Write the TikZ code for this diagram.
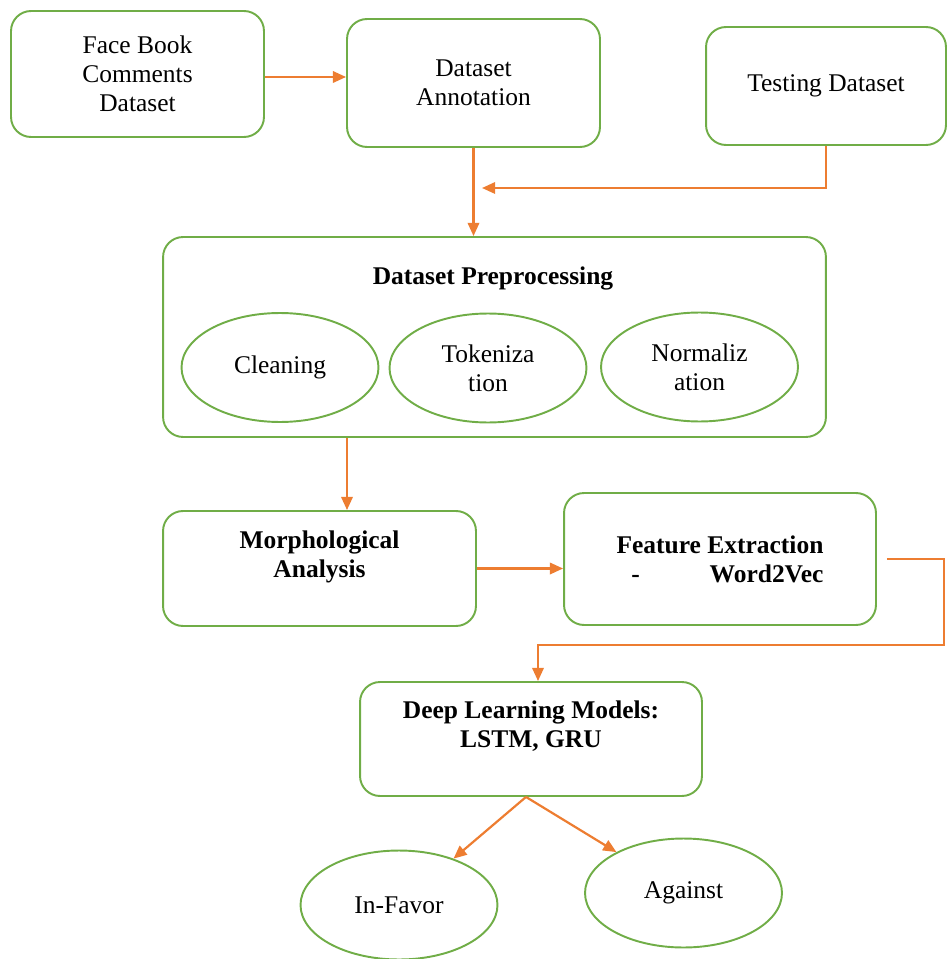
\documentclass[tikz,border=0pt]{standalone}
\usepackage{fontspec}
\setmainfont{Liberation Serif}
\usetikzlibrary{shapes.geometric, arrows.meta, positioning}
\definecolor{BoxGreen}{RGB}{112,173,71}
\definecolor{ArrOrange}{RGB}{237,125,49}

\begin{document}
\begin{tikzpicture}[
    x=0.02cm, y=-0.02cm,
    every node/.style={font=\fontsize{14.5}{16.5}\selectfont, align=center},
    box/.style={rectangle, draw=BoxGreen, line width=1.1pt, rounded corners=0.4cm},
    oval/.style={ellipse, draw=BoxGreen, line width=1.1pt, minimum width=3.94cm, minimum height=2.18cm},
    arr/.style={-{Triangle[length=7.5pt,width=6.5pt]}, line width=1.25pt, ArrOrange}
]
\useasboundingbox (0,0) rectangle (946,959);

% input side
\node[box, minimum width=5.06cm, minimum height=2.52cm] (fb) at (137.5,74) {Face Book\\ Comments\\ Dataset};
\node[box, minimum width=5.06cm, minimum height=2.56cm] (annot) at (473.5,83) {Dataset\\ Annotation};
\node[box, minimum width=4.8cm, minimum height=2.36cm] (test) at (826,86) {Testing Dataset};

% preprocessing block
\node[box, minimum width=13.26cm, minimum height=4cm] (prep) at (494.5,337) {};
\node (preptitle) at (493,278) {\bfseries Dataset Preprocessing};
\node[oval] (clean) at (280,367.5) {Cleaning};
\node[oval] (token) at (488,368) {Tokeniza\\ tion};
\node[oval] (norm) at (699.5,367) {Normaliz\\ ation};

% features and models
\node[box, minimum width=6.26cm, minimum height=2.3cm] (morph) at (319.5,568.5) {\bfseries Morphological\\ \bfseries Analysis\\ ~};
\node[box, minimum width=6.24cm, minimum height=2.64cm, align=right] (feat) at (720,559) {\bfseries Feature Extraction\\ \bfseries -\hspace{1.4cm}Word2Vec};
\node[box, minimum width=6.84cm, minimum height=2.28cm] (deep) at (531,739) {\bfseries Deep Learning Models:\\ \bfseries LSTM, GRU\\ ~};

% outputs
\node[oval] (favor) at (399,905) {In-Favor};
\node[oval] (against) at (683.5,893) {Against};

\coordinate (join) at (482,188);
\coordinate (bend) at (944,645);

\draw[arr] (fb.east |- 0,77) -- (annot.west |- 0,77);
\draw[arr] (annot.south) -- (annot.south |- prep.north);
\draw[arr] (test.south) |- (join);
\draw[arr] ([xshift=0.55cm]morph.north |- prep.south) -- ([xshift=0.55cm]morph.north);
\draw[arr] (morph.east) -- (morph.east -| feat.west);
\draw[arr] ([xshift=0.2cm]feat.east) -| (bend) -| ([xshift=0.14cm]deep.north);
\draw[arr] ([xshift=-0.1cm]deep.south) -- (favor);
\draw[arr] ([xshift=-0.1cm]deep.south) -- (against);
\end{tikzpicture}
\end{document}
